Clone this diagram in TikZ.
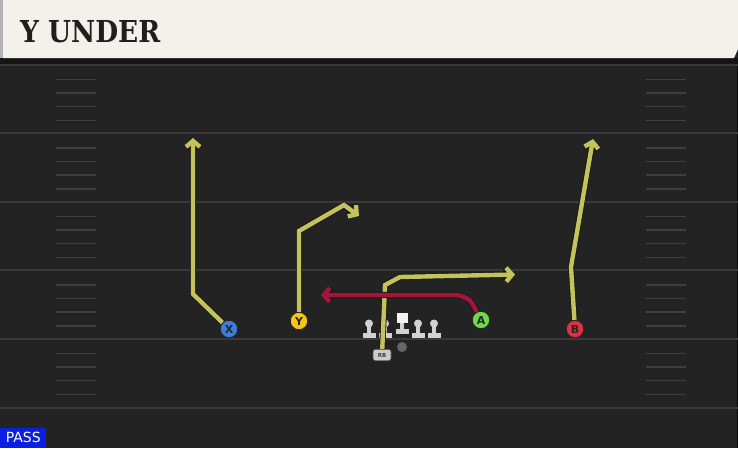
\documentclass[tikz,border=0pt]{standalone}
\usepackage{fontspec}
\setmainfont{DejaVu Sans}
\newfontfamily\titlefont{DejaVu Serif}
\usetikzlibrary{arrows.meta}
\definecolor{fieldbg}{HTML}{232323}
\definecolor{yardc}{HTML}{3A3A3A}
\definecolor{hashc}{HTML}{3E3E3E}
\definecolor{cream}{HTML}{F4F1EA}
\definecolor{routey}{HTML}{C4C25A}
\definecolor{router}{HTML}{A3153A}
\definecolor{xblue}{HTML}{3B7FD9}
\definecolor{yyellow}{HTML}{F5C518}
\definecolor{agreen}{HTML}{6DD94A}
\definecolor{bred}{HTML}{E23040}
\definecolor{passblue}{HTML}{0A1FE0}
\definecolor{olc}{HTML}{D2D2D2}
\tikzset{
  yard/.style={draw=yardc, line width=2pt},
  hashm/.style={draw=hashc, line width=1.6pt},
  player/.style={circle, draw=black!85, line width=0.9pt, minimum size=17.5pt, inner sep=0pt,
    font=\fontsize{11}{11}\selectfont\bfseries, text=black!85},
  routeout/.style={draw=black!90, line width=6.2pt, line join=miter,
    -{Straight Barb[length=6pt,width=14pt]}},
  routein/.style={line width=4.4pt, line join=miter,
    -{Straight Barb[length=6pt,width=14pt]}},
  lineman/.style={fill=olc},
}
\begin{document}
\begin{tikzpicture}[x=1pt,y=-1pt]
\useasboundingbox (0,0) rectangle (738,448);
\fill[fieldbg] (0,0) rectangle (738,448);
\draw[draw=black!70!fieldbg, line width=1pt] (737.5,58) -- (737.5,448);
% yard lines and hashes
\foreach \y in {64.5,133,201.5,270,338.5,407.5}
  \draw[yard] (0,\y) -- (738,\y);
\foreach \b in {64.5,133,201.5,270,338.5}
  \foreach \k in {14.8,28.5,42,56} {
    \draw[hashm] (56,\b+\k) -- (96,\b+\k);
    \draw[hashm] (646,\b+\k) -- (686,\b+\k);
  }
% header
\fill[black!92] (0,58) rectangle (738,64);
\fill[black!30] (0,0) rectangle (3,58);
\fill[cream] (3,0) -- (738,0) -- (738,49) -- (734,58) -- (3,58) -- cycle;
\node[anchor=south west, inner sep=0pt, text=black!88] (title) at (20,43)
  {\resizebox{140pt}{22pt}{\titlefont\bfseries Y UNDER}};
% offensive line
\foreach \x in {369,385,418,434} {
  \fill[lineman] (\x-2,324) rectangle (\x+2,333);
  \fill[lineman] (\x-6.5,332.5) rectangle (\x+6.5,338);
  \fill[lineman] (\x,323.5) circle (4);
}
\node[fill=white!95!black, minimum width=11pt, minimum height=10pt, inner sep=0pt] (C) at (402,318) {};
\fill[lineman] (400,323) rectangle (404,329);
\fill[lineman] (395.5,328.5) rectangle (408.5,334);
\node[circle, fill=black!60, minimum size=10pt, inner sep=0pt] (QB) at (402,347) {};
% skill players
\node[player, fill=xblue] (X) at (229,329) {X};
\node[player, fill=yyellow] (Y) at (299,321) {Y};
\node[player, fill=agreen] (A) at (481,320) {A};
\node[player, fill=bred] (B) at (575,329) {B};
\node[rounded corners=2.5pt, fill=black!20, draw=black!70, line width=0.6pt,
  minimum width=18pt, minimum height=11.5pt, inner sep=0pt,
  font=\fontsize{5.5}{5.5}\selectfont\bfseries, text=black!75] (RB) at (382,355) {RB};
% waypoints
\coordinate (x1) at (193,294); \coordinate (x2) at (193,138);
\coordinate (y1) at (299,231); \coordinate (y2) at (344,205); \coordinate (y3) at (359,216);
\coordinate (b1) at (571,267); \coordinate (b2) at (593,139);
\coordinate (r1) at (385,285); \coordinate (r2) at (400,277); \coordinate (r3) at (515,274.5);
\coordinate (a1) at (458,295); \coordinate (a2) at (321,295);
% routes: dark outlines
\draw[routeout] (X) -- (x1) -- (x2);
\draw[routeout] (Y) -- (y1) -- (y2) -- (y3);
\draw[routeout] (B) -- (b1) -- (b2);
\draw[routeout] (RB) -- (r1) -- (r2) -- (r3);
% routes: colour
\draw[routein, draw=routey] (X) -- (x1) -- (x2);
\draw[routein, draw=routey] (Y) -- (y1) -- (y2) -- (y3);
\draw[routein, draw=routey] (B) -- (b1) -- (b2);
\draw[routein, draw=routey] (RB) -- (r1) -- (r2) -- (r3);
\draw[routeout] (A) .. controls (470,299) .. (a1) -- (a2);
\draw[routein, draw=router] (A) .. controls (470,299) .. (a1) -- (a2);
% play type label
\node[fill=passblue, text=white, inner sep=0pt, minimum width=46pt, minimum height=20pt,
  anchor=south west, font=\fontsize{14}{14}\selectfont] (pass) at (0,448) {PASS};
\end{tikzpicture}
\end{document}
